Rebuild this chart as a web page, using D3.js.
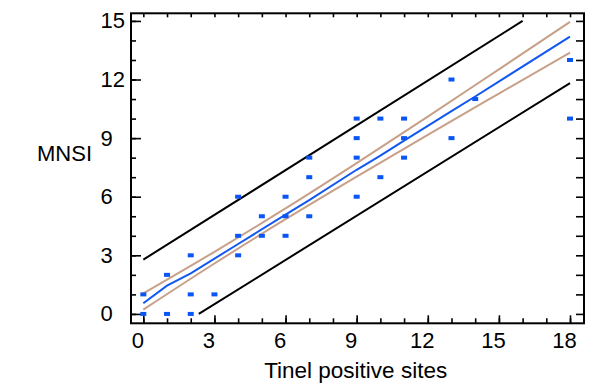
<!DOCTYPE html>
<html><head><meta charset="utf-8">
<script src="https://cdn.jsdelivr.net/npm/d3@7"></script>
<style>body{margin:0;background:#fff}svg{display:block}</style>
</head><body>
<svg id="c" width="600" height="389"></svg>
<script>
// ---- data ----
const ptX = [0,0, 1,1, 2,2,2, 3, 4,4,4, 5,5, 6,6,6, 7,7,7, 9,9,9,9, 10,10, 11,11,11, 13,13, 14, 18,18];
const ptY = [0,1, 0,2, 0,1,3, 1, 3,4,6, 4,5, 4,5,6, 5,7,8, 6,8,9,10, 7,10, 8,9,10, 9,12, 11, 10,13];
// regression line (blue)
const fitX = [0, 1, 2, 4, 6, 7, 9, 10, 11, 13, 14, 18];
const fitY = [0.55, 1.45, 2.08, 3.58, 5.08, 5.83, 7.38, 8.1, 8.87, 10.38, 11.13, 14.2];
// confidence band (tan)
const bandX = [0, 3, 6, 9, 12, 15, 18];
const bandUpper = [1.05, 3.18, 5.40, 7.72, 10.1, 12.52, 14.95];
const bandLower = [0.22, 2.58, 4.85, 7.03, 9.17, 11.28, 13.38];
// prediction band (black)
const predUpperX = [0, 16.0], predUpperY = [2.78, 15];
const predLowerX = [2.34, 18], predLowerY = [0, 11.82];
// ticks
const xMajor = [0,3,6,9,12,15,18];
const yMajor = [0,3,6,9,12,15];
const xMinor = d3.range(0,19);
const yMinor = d3.range(0,16);

const svg = d3.select("#c");
const FONT = "'Liberation Sans', Arial, Helvetica, sans-serif";
const L=131, R=584, T=13.3, B=323.3;
const x = d3.scaleLinear().domain([-0.52, 18.59]).range([L, R]);
const y = d3.scaleLinear().domain([-0.48, 15.39]).range([B, T]);

// ticks
function styleAxis(g){ g.select(".domain").remove(); g.selectAll("line").attr("stroke","#000").attr("stroke-width",1.6); }
svg.append("g").attr("transform",`translate(0,${B})`)
  .call(d3.axisBottom(x).tickValues(xMinor).tickSize(-5).tickFormat("")).call(styleAxis);
svg.append("g").attr("transform",`translate(0,${B})`)
  .call(d3.axisBottom(x).tickValues(xMajor).tickSize(-8).tickPadding(9)).call(styleAxis)
  .call(g=>g.selectAll("text").attr("font-family",FONT).attr("font-size",22).attr("fill","#000").attr("dx",-6));
svg.append("g").attr("transform",`translate(0,${T})`)
  .call(d3.axisTop(x).tickValues(xMinor).tickSize(-4).tickFormat("")).call(styleAxis);
svg.append("g").attr("transform",`translate(${L},0)`)
  .call(d3.axisLeft(y).tickValues(yMinor).tickSize(-5).tickFormat("")).call(styleAxis);
svg.append("g").attr("transform",`translate(${L},0)`)
  .call(d3.axisLeft(y).tickValues(yMajor).tickSize(-10).tickPadding(19)).call(styleAxis)
  .call(g=>g.selectAll("text").attr("font-family",FONT).attr("font-size",22).attr("fill","#000")
     .attr("text-anchor","start").attr("x",-30.5));
svg.append("g").attr("transform",`translate(${R},0)`)
  .call(d3.axisRight(y).tickValues(yMinor).tickSize(-8).tickFormat("")).call(styleAxis);

// frame
svg.append("rect").attr("x",L).attr("y",T).attr("width",R-L).attr("height",B-T)
  .attr("fill","none").attr("stroke","#000").attr("stroke-width",2);

const line = d3.line().x(d=>x(d[0])).y(d=>y(d[1]));
const curve = d3.line().x(d=>x(d[0])).y(d=>y(d[1])).curve(d3.curveMonotoneX);

// prediction band
svg.append("path").attr("d", line(d3.zip(predUpperX,predUpperY))).attr("fill","none").attr("stroke","#000").attr("stroke-width",2);
svg.append("path").attr("d", line(d3.zip(predLowerX,predLowerY))).attr("fill","none").attr("stroke","#000").attr("stroke-width",2);
// confidence band
svg.append("path").attr("d", curve(d3.zip(bandX,bandUpper))).attr("fill","none").attr("stroke","#c8a088").attr("stroke-width",2);
svg.append("path").attr("d", curve(d3.zip(bandX,bandLower))).attr("fill","none").attr("stroke","#c8a088").attr("stroke-width",2);
// fit
svg.append("path").attr("d", line(d3.zip(fitX,fitY))).attr("fill","none").attr("stroke","#1258f0").attr("stroke-width",2);

// points
svg.append("g").selectAll("rect").data(d3.zip(ptX,ptY)).join("rect")
  .attr("x",d=>x(d[0])-3).attr("y",d=>y(d[1])-2).attr("width",6).attr("height",4)
  .attr("fill","#0a55f5");

// titles
svg.append("text").attr("x",(x(0)+x(18))/2 - 1).attr("y",378).attr("text-anchor","middle")
  .attr("font-family",FONT).attr("font-size",22.5).attr("fill","#000").text("Tinel positive sites");
svg.append("text").attr("x",37).attr("y",161)
  .attr("font-family",FONT).attr("font-size",22).attr("fill","#000").text("MNSI");
</script>
</body></html>
